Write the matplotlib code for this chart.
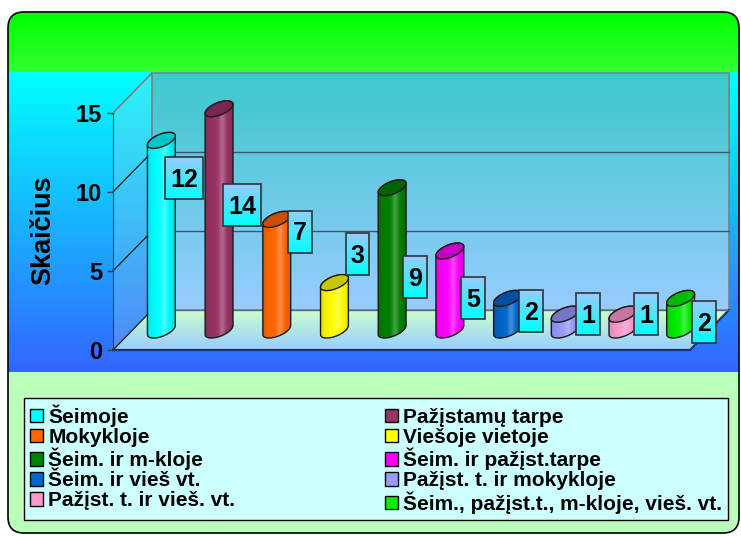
import numpy as np
import matplotlib.pyplot as plt
from matplotlib.colors import to_rgb
from matplotlib.patches import FancyBboxPatch, Patch, Polygon, Rectangle
from matplotlib.transforms import ScaledTranslation

plt.rcParams["font.family"] = ["Liberation Sans", "DejaVu Sans"]

categories = [
    "Šeimoje", "Pažįstamų tarpe", "Mokykloje", "Viešoje vietoje",
    "Šeim. ir m-kloje", "Šeim. ir pažįst.tarpe", "Šeim. ir vieš vt.",
    "Pažįst. t. ir mokykloje", "Pažįst. t. ir vieš. vt.",
    "Šeim., pažįst.t., m-kloje, vieš. vt.",
]
counts = [12, 14, 7, 3, 9, 5, 2, 1, 1, 2]
colors = ["#00ffff", "#993366", "#ff6600", "#ffff00", "#008000",
          "#ff00ff", "#0066cc", "#9999ff", "#ff99cc", "#00ee00"]
yticks = [0, 5, 10, 15]
# where the value boxes sit (axis units), as in the original sheet
label_heights = [10.9, 9.2, 7.5, 6.1, 4.6, 3.3, 2.5, 2.3, 2.3, 1.8]

W, H = 741, 536
DX, DY = 0.676, 2.53      # oblique depth of the plot box, in data units
YMAX = 15


def grad_img(c0, c1, n=256, horizontal=False):
    t = np.linspace(0, 1, n)[:, None, None]
    img = (1 - t) * np.array(to_rgb(c0)) + t * np.array(to_rgb(c1))
    return img.transpose(1, 0, 2) if horizontal else img


def clip_to(im, patch):
    # let the image spill outside its axes, but keep it inside the patch
    im.set_clip_box(im.figure.bbox)
    im.set_clip_path(patch)


def darker(c, f):
    return tuple(np.array(to_rgb(c)) * f)


fig = plt.figure(figsize=(W / 100, H / 100), dpi=100)

# ---- background panels (pixel coordinates) ----
bg = fig.add_axes([0, 0, 1, 1], zorder=-1)
bg.set_xlim(0, W)
bg.set_ylim(H, 0)
bg.axis("off")
frame = FancyBboxPatch((8, 12), 731, 521, boxstyle="round,pad=0,rounding_size=16",
                       facecolor="none", edgecolor="none", transform=bg.transData)
bg.add_patch(frame)
for ext, c0, c1 in [((8, 739, 72, 12), "#00ff00", "#33ff33"),
                    ((8, 739, 372, 72), "#00ffff", "#3366ff"),
                    ((8, 739, 533, 372), "#bbffbb", "#bbffbb")]:
    im = bg.imshow(grad_img(c0, c1), extent=ext, aspect="auto", origin="upper")
    clip_to(im, frame)
bg.add_patch(FancyBboxPatch((8, 12), 731, 521, boxstyle="round,pad=0,rounding_size=16",
                            facecolor="none", edgecolor="black", lw=1.2, zorder=5))

# ---- main plot box ----
ax = fig.add_axes([113 / W, (H - 350) / H, 577 / W, 237 / H], zorder=1)
ax.patch.set_visible(False)
n = len(counts)

back = Polygon([(DX, DY), (n + DX, DY), (n + DX, YMAX + DY), (DX, YMAX + DY)],
               facecolor="none", edgecolor="#7f7f7f", lw=1.2, zorder=2, clip_on=False)
ax.add_patch(back)
im = ax.imshow(grad_img("#3cc8cc", "#99ccff"), extent=(DX, n + DX, DY, YMAX + DY),
               aspect="auto", origin="upper", zorder=1)
clip_to(im, back)

side = Polygon([(0, 0), (DX, DY), (DX, YMAX + DY), (0, YMAX)], facecolor="#b0d8e0",
               alpha=0.25, edgecolor="none", zorder=1, clip_on=False)
ax.add_patch(side)
ax.plot([0, DX], [YMAX, YMAX + DY], color="#7f7f7f", lw=1.2, zorder=2, clip_on=False)

floor = Polygon([(0, 0), (n, 0), (n + DX, DY), (DX, DY)], facecolor="none",
                edgecolor="none", zorder=2, clip_on=False)
ax.add_patch(floor)
im = ax.imshow(grad_img("#ccffcc", "#99ccff"), extent=(0, n + DX, 0, DY),
               aspect="auto", origin="upper", zorder=2)
clip_to(im, floor)
ax.plot([0, n, n + DX], [0, 0, DY], color="#223366", lw=1.6, zorder=3, clip_on=False)
ax.plot([DX, n + DX], [DY, DY], color="#5a6a80", lw=1, zorder=3, clip_on=False)

for v in yticks[:-1]:
    ax.plot([0, DX], [v, v + DY], color="#1a1a1a", lw=0.9, zorder=3, clip_on=False)
    if v > 0:
        ax.plot([DX, n + DX], [v + DY, v + DY], color="#3d5566", lw=1, zorder=3,
                clip_on=False)

# ---- cylinders ----
r, s = 0.2, 0.2
A, B, C = r, s * DX, s * DY
tmax = np.arctan2(B, A)
half = np.hypot(A, B)
u = np.linspace(0, 1, 64)
for i, (v, c) in enumerate(zip(counts, colors)):
    z = 10 + 4 * i
    cx = i + 0.5 + 0.5 * DX
    y0, y1 = 0.5 * DY, v + 0.5 * DY
    tb = np.linspace(tmax + np.pi, tmax + 2 * np.pi, 60)
    tt = np.linspace(tmax, tmax + np.pi, 60)
    xs = np.r_[cx + A * np.cos(tb) + B * np.sin(tb), cx + A * np.cos(tt) + B * np.sin(tt)]
    ys = np.r_[y0 + C * np.sin(tb), y1 + C * np.sin(tt)]
    body = Polygon(np.c_[xs, ys], facecolor="none", edgecolor="#1a1a1a", lw=1,
                   zorder=z + 1, clip_on=False)
    ax.add_patch(body)
    base = np.array(to_rgb(c))
    prof = 0.84 + 0.16 * np.sin(np.pi * u) ** 0.5
    hl = 0.25 * np.exp(-((u - 0.62) / 0.12) ** 2)
    shade = np.clip(base[None, :] * prof[:, None] + (1 - base[None, :]) * hl[:, None], 0, 1)
    im = ax.imshow(shade[None, :, :], extent=(cx - half, cx + half, y0 - C, y1 + C),
                   aspect="auto", origin="upper", zorder=z)
    clip_to(im, body)
    t = np.linspace(0, 2 * np.pi, 80)
    ax.add_patch(Polygon(np.c_[cx + A * np.cos(t) + B * np.sin(t), y1 + C * np.sin(t)],
                         facecolor=darker(c, 0.78), edgecolor="#1a1a1a", lw=1,
                         zorder=z + 2, clip_on=False))

# ---- axis ----
ax.set_xlim(0, n)
ax.set_ylim(0, YMAX)
ax.set_yticks(yticks)
ax.xaxis.set_visible(False)
for side_name in ["top", "right", "bottom"]:
    ax.spines[side_name].set_visible(False)
ax.spines["left"].set_color("#404040")
ax.spines["left"].set_zorder(4)
ax.tick_params(axis="y", labelsize=17, length=4, width=1, color="#404040", pad=4)
plt.setp(ax.get_yticklabels(), fontweight="bold")
fig.text(43 / W, 1 - 230 / H, "Skaičius", rotation=90, ha="center", va="center",
         fontsize=19.5, fontweight="bold")

# ---- value boxes ----
down = ax.transData + ScaledTranslation(0, -0.09, fig.dpi_scale_trans)
texts = []
for i, (v, ly) in enumerate(zip(counts, label_heights)):
    lx = i + 0.5 + 0.5 * DX + 0.4
    texts.append(ax.text(lx, ly, str(v), ha="center", va="baseline", fontsize=18,
                         fontweight="bold", zorder=100 + 3 * i, clip_on=False,
                         transform=down))
fig.canvas.draw()
rend = fig.canvas.get_renderer()
inv = ax.transData.inverted()
for i, t in enumerate(texts):
    bb = t.get_window_extent(rend)
    mx, my = ax.transData.transform(t.get_position())
    (x0, y0), (x1, y1) = inv.transform([(mx - bb.width / 2 - 5, my - 21),
                                        (mx + bb.width / 2 + 5, my + 21)])
    ax.imshow(grad_img("#99ccff", "#00ffff"), extent=(x0, x1, y0, y1), aspect="auto",
              origin="upper", zorder=t.get_zorder() - 2, clip_on=False)
    ax.add_patch(Rectangle((x0, y0), x1 - x0, y1 - y0, facecolor="none",
                           edgecolor="#333333", lw=1.2, zorder=t.get_zorder() - 1,
                           clip_on=False))
ax.set_xlim(0, n)
ax.set_ylim(0, YMAX)
ax.set_aspect("auto")

# ---- legend, row by row ----
order = list(range(0, n, 2)) + list(range(1, n, 2))
handles = [Patch(facecolor=colors[k], edgecolor="black", lw=1) for k in order]
leg = fig.legend(handles, [categories[k] for k in order], ncol=2, loc="upper left",
                 bbox_to_anchor=(24 / W, (H - 517) / H, 704 / W, 119 / H), mode="expand",
                 prop={"size": 15, "weight": "bold"}, frameon=True, fancybox=False,
                 facecolor="#ccffff", edgecolor="black", framealpha=1,
                 handlelength=0.62, handleheight=0.62, handletextpad=0.25,
                 labelspacing=0.05, borderpad=0.3, borderaxespad=0)
leg.get_frame().set_linewidth(1)

fig.savefig("out.png", dpi=100)
